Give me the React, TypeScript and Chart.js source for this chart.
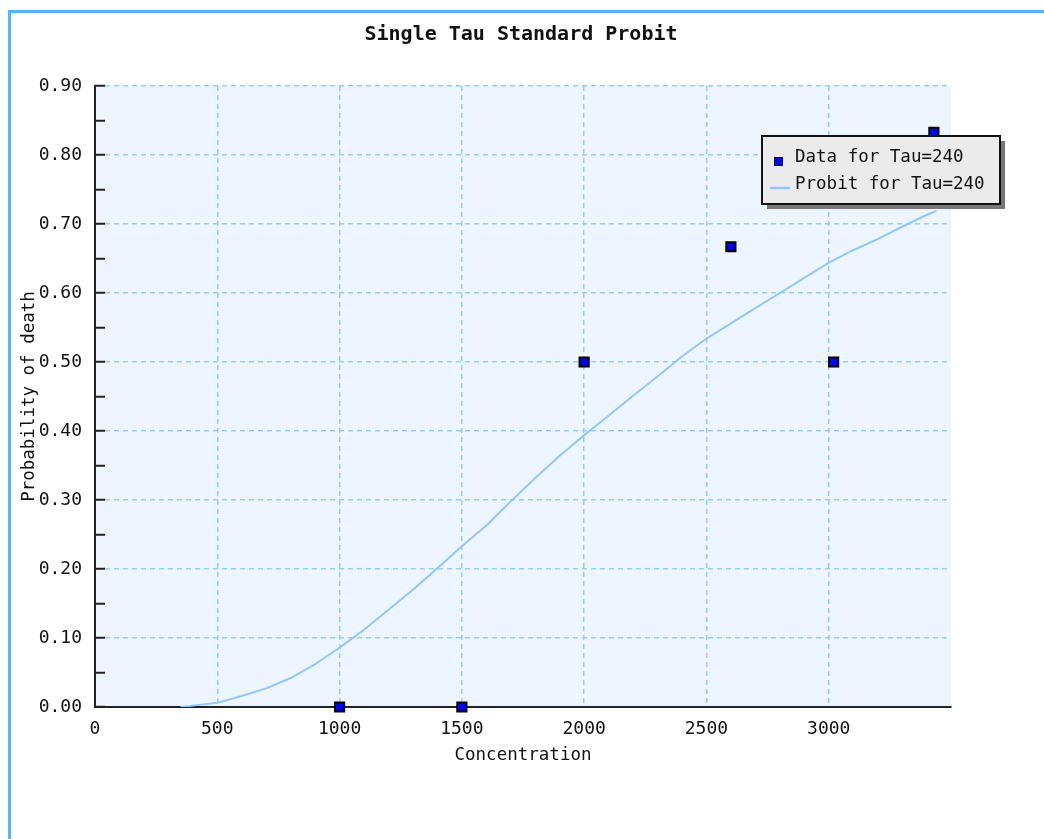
import React, { useEffect, useRef } from "react";
import { Chart, registerables } from "chart.js";

Chart.register(...registerables);

const chartTitle = "Single Tau Standard Probit";
const xAxisTitle = "Concentration";
const yAxisTitle = "Probability of death";

const dataLabel = "Data for Tau=240";
const probitLabel = "Probit for Tau=240";

const dataConc = [1000, 1500, 2000, 2600, 3020, 3430];
const dataProb = [0, 0, 0.5, 0.667, 0.5, 0.833];

const probitConc = [350, 400, 500, 600, 700, 800, 900, 1000, 1100, 1200, 1300, 1400, 1500, 1600, 1700, 1800, 1900, 2000, 2100, 2200, 2300, 2400, 2500, 2600, 2700, 2800, 2900, 3000, 3100, 3200, 3300, 3400, 3440];
const probitProb = [0.0, 0.002, 0.006, 0.016, 0.027, 0.042, 0.062, 0.086, 0.112, 0.141, 0.17, 0.201, 0.233, 0.263, 0.298, 0.332, 0.364, 0.394, 0.422, 0.451, 0.479, 0.508, 0.534, 0.556, 0.578, 0.6, 0.622, 0.644, 0.662, 0.678, 0.696, 0.713, 0.719];

const xMin = 0;
const xMax = 3500;
const xStep = 500;
const xLastTick = 3000;
const yMin = 0;
const yMax = 0.9;
const yStep = 0.05;

const FONT = "'DejaVu Sans Mono', monospace";
const GRID = "#99ccff";
const LINE = "#93c6ff";
const AXIS = "#222222";
const TEXT = "#111111";

const isMajor = (v: number) => Math.abs(v * 10 - Math.round(v * 10)) < 1e-6;

const plotBg = {
  id: "plotBg",
  beforeDraw(chart: any) {
    const { ctx, chartArea } = chart;
    ctx.save();
    ctx.fillStyle = "#edf6ff";
    ctx.fillRect(chartArea.left, chartArea.top, chartArea.right - chartArea.left, chartArea.bottom - chartArea.top);
    ctx.restore();
  },
};

// centre the title over the whole canvas rather than the padded layout area
const fullWidthTitle = {
  id: "fullWidthTitle",
  afterLayout(chart: any) {
    const t = chart.titleBlock;
    if (t) {
      t.left = 0;
      t.right = chart.width;
      t.width = chart.width;
    }
  },
};

const boxLegend = {
  id: "boxLegend",
  afterDraw(chart: any) {
    const { ctx, chartArea } = chart;
    const ds = chart.data.datasets;
    const left = chartArea.right - 189;
    const top = chartArea.top + 50;
    const w = 238;
    const h = 68;
    ctx.save();
    ctx.fillStyle = "#777777";
    ctx.fillRect(left + 5, top + 5, w, h);
    ctx.fillStyle = "#ebebeb";
    ctx.fillRect(left, top, w, h);
    ctx.strokeStyle = "#111111";
    ctx.lineWidth = 2;
    ctx.strokeRect(left, top, w, h);
    ctx.fillStyle = "#0000ff";
    ctx.fillRect(left + 12, top + 21, 9, 9);
    ctx.strokeStyle = "#000";
    ctx.lineWidth = 1;
    ctx.strokeRect(left + 12.5, top + 21.5, 8, 8);
    ctx.strokeStyle = LINE;
    ctx.lineWidth = 2.5;
    ctx.beginPath();
    ctx.moveTo(left + 8, top + 52);
    ctx.lineTo(left + 28, top + 52);
    ctx.stroke();
    ctx.fillStyle = TEXT;
    ctx.font = `17.5px ${FONT}`;
    ctx.textBaseline = "middle";
    ctx.textAlign = "left";
    ctx.fillText(ds[0].label, left + 33, top + 21);
    ctx.fillText(ds[1].label, left + 33, top + 48);
    ctx.restore();
  },
};

export default function App() {
  const ref = useRef<HTMLCanvasElement>(null);

  useEffect(() => {
    if (!ref.current) return;
    const chart = new Chart(ref.current, {
      type: "scatter",
      data: {
        datasets: [
          {
            label: dataLabel,
            data: dataConc.map((x, i) => ({ x, y: dataProb[i] })),
            pointStyle: "rect",
            pointRadius: 6.5,
            pointHoverRadius: 6.5,
            pointBackgroundColor: "#0000ff",
            pointBorderColor: "#000000",
            pointBorderWidth: 2,
            showLine: false,
            clip: false,
          } as any,
          {
            label: probitLabel,
            type: "line",
            data: probitConc.map((x, i) => ({ x, y: probitProb[i] })),
            borderColor: LINE,
            borderWidth: 2,
            pointRadius: 0,
            tension: 0,
            fill: false,
          } as any,
        ],
      },
      options: {
        responsive: false,
        animation: false,
        devicePixelRatio: 1,
        layout: { padding: { left: 0, right: 80, top: 0, bottom: 0 } },
        plugins: {
          legend: { display: false },
          tooltip: { enabled: false },
          title: {
            display: true,
            text: chartTitle,
            color: TEXT,
            font: { family: FONT, size: 20, weight: "bold" },
            padding: { top: 9.5, bottom: 39.5 },
          },
        },
        scales: {
          x: {
            type: "linear",
            min: xMin,
            max: xMax,
            ticks: {
              stepSize: xStep,
              padding: 12,
              maxRotation: 0,
              color: TEXT,
              font: { family: FONT, size: 18 },
              callback: (v: any) => String(v),
            },
            afterBuildTicks: (s: any) => {
              s.ticks = s.ticks.filter((t: any) => t.value <= xLastTick);
            },
            grid: { color: GRID, lineWidth: 1.5, drawTicks: false },
            border: { display: true, color: AXIS, width: 2, dash: [5, 4] },
            title: {
              display: true,
              text: xAxisTitle,
              color: TEXT,
              font: { family: FONT, size: 17.5 },
              padding: { top: 0, bottom: 47.5 },
            },
            afterFit: (s: any) => {
              s.height = 106;
            },
          },
          y: {
            type: "linear",
            min: yMin,
            max: yMax,
            ticks: {
              stepSize: yStep,
              autoSkip: false,
              padding: 23,
              color: TEXT,
              font: { family: FONT, size: 18 },
              callback: (v: any) => (isMajor(Number(v)) ? Number(v).toFixed(2) : ""),
            },
            grid: {
              color: (c: any) => (c.tick && isMajor(c.tick.value) ? GRID : "rgba(0,0,0,0)"),
              lineWidth: 1.5,
              drawTicks: true,
              tickLength: -10,
              tickWidth: 2,
              tickColor: AXIS,
            },
            border: { display: true, color: AXIS, width: 2, dash: [5, 4] },
            title: {
              display: true,
              text: yAxisTitle,
              color: TEXT,
              font: { family: FONT, size: 17.5 },
              padding: { top: 7.5, bottom: 0 },
            },
            afterFit: (s: any) => {
              s.width = 84;
            },
          },
        },
      } as any,
      plugins: [plotBg, fullWidthTitle, boxLegend],
    });
    return () => chart.destroy();
  }, []);

  return (
    <div
      style={{
        position: "fixed",
        left: 8,
        top: 10,
        width: 1036,
        height: 829,
        boxSizing: "border-box",
        borderTop: "3px solid #55b4ff",
        borderLeft: "3px solid #55b4ff",
        background: "#ffffff",
      }}
    >
      <canvas ref={ref} width={1020} height={800} style={{ display: "block" }} />
    </div>
  );
}
